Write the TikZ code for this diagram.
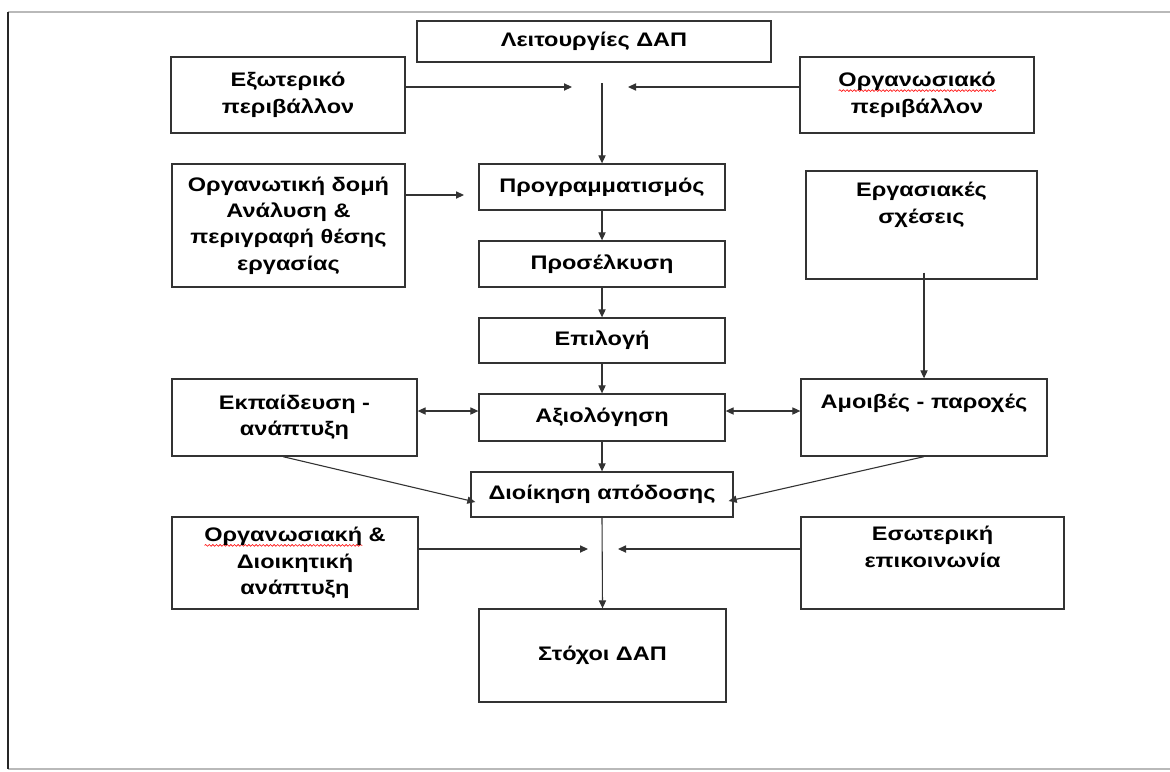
\documentclass[tikz,border=0pt]{standalone}
\usepackage{fontspec}
\setmainfont[FakeStretch=1.2]{Liberation Sans}
\usetikzlibrary{arrows.meta,decorations.pathmorphing}
\newlength\wavelen
\newcommand\redwave[1]{\settowidth\wavelen{#1}%
  \rlap{\raisebox{-2.4pt}{\tikz[x=1pt,y=1pt]\draw[red, line width=0.3pt, decorate,
    decoration={snake, amplitude=0.45pt, segment length=1.8pt}] (0,0) -- (\wavelen,0);}}#1}
\tikzset{
  box/.style={draw=black!80, line width=0.65pt, inner sep=2pt, align=center,
    font={\bfseries\fontsize{9.8}{13.2}\selectfont}},
  boxtext/.style={inner sep=0pt, align=center, anchor=north,
    font={\bfseries\fontsize{9.8}{13.6}\selectfont}},
  arr/.style={draw=black!80, line width=0.55pt, -{Triangle[length=4pt,width=3.6pt]}},
  darr/.style={draw=black!80, line width=0.55pt,
    {Triangle[length=4pt,width=3.6pt]}-{Triangle[length=4pt,width=3.6pt]}}
}
\begin{document}
\begin{tikzpicture}[x=0.5pt, y=-0.5pt]
  \useasboundingbox (0,0) rectangle (1170,771);
  % page frame
  \draw[gray!55, line width=0.6pt] (8,12) -- (1170,12);
  \draw[gray!55, line width=0.6pt] (8,769) -- (1170,769);
  \draw[black!85, line width=0.6pt] (8,12) -- (8,769);
  % top row
  \node[box, minimum width=177pt, minimum height=20.5pt] (lit) at (594,41.5) {Λειτουργίες ΔΑΠ};
  \node[box, minimum width=117pt, minimum height=38pt] (extenv) at (288,95) {Εξωτερικό\\περιβάλλον};
  \node[box, minimum width=117pt, minimum height=38pt] (orgenv) at (917,95) {\redwave{Οργανωσιακό}\\περιβάλλον};
  % main column
  \node[box, minimum width=123pt, minimum height=23pt] (plan) at (602,187) {Προγραμματισμός};
  \node[box, minimum width=123pt, minimum height=23pt] (recruit) at (602,264) {Προσέλκυση};
  \node[box, minimum width=123pt, minimum height=22.5pt] (select) at (602,340.5) {Επιλογή};
  \node[box, minimum width=123pt, minimum height=23.5pt] (evalu) at (602,417.5) {Αξιολόγηση};
  \node[box, minimum width=131pt, minimum height=22.5pt] (perf) at (602,494.5) {Διοίκηση απόδοσης};
  \node[box, minimum width=123.5pt, minimum height=46.5pt] (goals) at (602.5,655.5) {Στόχοι ΔΑΠ};
  % left side
  \node[box, minimum width=116.5pt, minimum height=61.5pt] (struct) at (288.5,225.5) {Οργανωτική δομή\\Ανάλυση \&\\περιγραφή θέσης\\εργασίας};
  \node[box, minimum width=122.5pt, minimum height=38.5pt] (train) at (294.5,417.5) {Εκπαίδευση -\\ανάπτυξη};
  \node[box, minimum width=123pt, minimum height=46pt] (orgdev) at (295,563) {\redwave{Οργανωσιακή} \&\\Διοικητική\\ανάπτυξη};
  % right side
  \node[box, minimum width=115.5pt, minimum height=54pt] (labour) at (921.5,225) {};
  \node[boxtext] (labourtxt) at ([yshift=-5.5pt]labour.north) {Εργασιακές\\σχέσεις};
  \node[box, minimum width=123pt, minimum height=38.5pt] (pay) at (924,417.5) {};
  \node[boxtext] (paytxt) at ([yshift=-7.5pt]pay.north) {Αμοιβές - παροχές};
  \node[box, minimum width=131.5pt, minimum height=46pt] (intcomm) at (932.5,563) {};
  \node[boxtext] (intcommtxt) at ([yshift=-4.5pt]intcomm.north) {Εσωτερική\\επικοινωνία};
  % inputs into the column
  \coordinate (inL) at (572,87);
  \coordinate (inR) at (628,87);
  \coordinate (inTop) at (602,83);
  \coordinate (inS) at (464,195);
  \draw[arr] (inL -| extenv.east) -- (inL);
  \draw[arr] (inR -| orgenv.west) -- (inR);
  \draw[arr] (inTop) -- (plan.north);
  \draw[arr] (inS -| struct.east) -- (inS);
  \draw[arr] (plan.south) -- (recruit.north);
  \draw[arr] (recruit.south) -- (select.north);
  \draw[arr] (select.south) -- (evalu.north);
  \draw[arr] (evalu.south) -- (perf.north);
  \coordinate (labOut) at ([yshift=3.5pt]labour.south);
  \draw[arr] (labOut -| pay.north) -- (pay.north);
  % links round the evaluation
  \coordinate (evy) at (602,411);
  \draw[darr] (evy -| train.east) -- (evy -| evalu.west);
  \draw[darr] (evy -| evalu.east) -- (evy -| pay.west);
  \draw[arr] ([xshift=-5.75pt]train.south) -- ([shift={(2.5pt,-3.75pt)}]perf.west);
  \draw[arr] (pay.south) -- ([shift={(-2.5pt,-3.25pt)}]perf.east);
  % towards the goals
  \coordinate (outL) at (588,549);
  \coordinate (outR) at (618,549);
  \draw[arr] (perf.south) -- (goals.north);
  \draw[arr] (outL -| orgdev.east) -- (outL);
  \draw[arr] (outR -| intcomm.west) -- (outR);
\end{tikzpicture}
\end{document}
